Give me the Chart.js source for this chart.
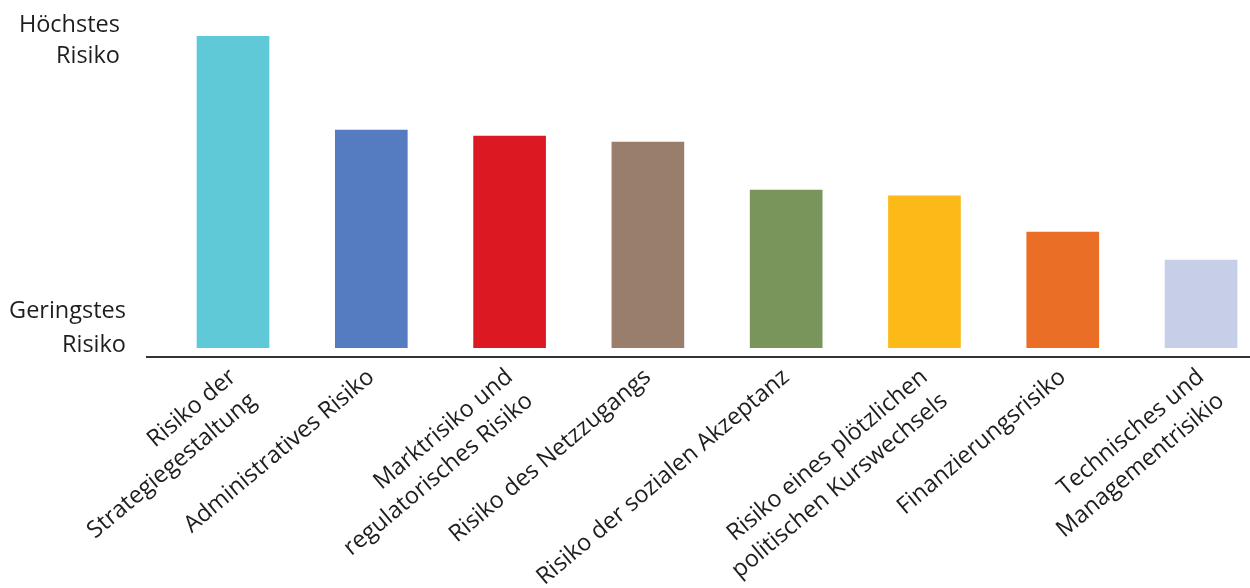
<!DOCTYPE html>
<html lang="de">
<head>
<meta charset="utf-8">
<script src="https://cdn.jsdelivr.net/npm/chart.js@4"></script>
<style>
  html, body { margin: 0; padding: 0; background: #fff; overflow: hidden; }
  #wrap { width: 1250px; height: 588px; }
</style>
</head>
<body>
<div id="wrap"><canvas id="risiko"></canvas></div>
<script>
// Kategorien (mehrzeilige Beschriftungen)
var kategorien = [
    ['Risiko der', 'Strategiegestaltung'],
    ['Administratives Risiko'],
    ['Marktrisiko und', 'regulatorisches Risiko'],
    ['Risiko des Netzzugangs'],
    ['Risiko der sozialen Akzeptanz'],
    ['Risiko eines plötzlichen', 'politischen Kurswechsels'],
    ['Finanzierungsrisiko'],
    ['Technisches und', 'Managementrisikio']
];

// relative Risikobewertung (aus dem Bild geschätzt)
var werte = [10, 6.98, 6.79, 6.6, 5.06, 4.87, 3.71, 2.81];

var farben = ['#5fc9d8', '#557bc0', '#dc1922', '#9a7e6c', '#79955c', '#fdb917', '#ea6e26', '#c7cfe8'];

// Beschriftung der Risikoachse
var achseOben = ['Höchstes', 'Risiko'];
var achseUnten = ['Geringstes', 'Risiko'];

var schrift = "'Open Sans', 'Noto Sans', sans-serif";

// Achsentexte links zeichnen
var risikoAchse = {
    id: 'risikoAchse',
    afterDraw: function (chart) {
        var c = chart.ctx;
        var y = chart.scales.y;
        var oben = y.getPixelForValue(Math.max.apply(null, werte));
        var unten = y.getPixelForValue(0);
        c.save();
        c.fillStyle = '#1e1e1e';
        c.font = '23.5px ' + schrift;
        c.textAlign = 'right';
        c.textBaseline = 'alphabetic';
        c.fillText(achseOben[0], 120, oben - 4);
        c.fillText(achseOben[1], 120, oben + 27);
        c.fillText(achseUnten[0], 126, unten - 30);
        c.fillText(achseUnten[1], 126, unten + 4);
        c.restore();
    }
};

var daten = werte.map(function (v, i) { return { x: i, y: v }; });

var ctx = document.getElementById('risiko').getContext('2d');
var grafik = new Chart(ctx, {
    type: 'bar',
    data: {
        datasets: [{
            data: daten,
            backgroundColor: farben,
            borderWidth: 0,
            barThickness: 72
        }]
    },
    options: {
        responsive: true,
        maintainAspectRatio: false,
        animation: false,
        layout: { padding: { left: 147, top: 36, right: 0, bottom: 0 } },
        plugins: {
            legend: { display: false },
            tooltip: { enabled: false }
        },
        scales: {
            x: {
                type: 'linear',
                offset: false,
                min: -0.622,
                max: 7.354,
                afterBuildTicks: function (scale) {
                    scale.ticks = kategorien.map(function (k, i) { return { value: i }; });
                },
                afterFit: function (scale) { scale.height = 231; },
                grid: { display: false, drawTicks: false },
                border: { display: true, color: '#333', width: 2 },
                ticks: {
                    autoSkip: false,
                    minRotation: 40,
                    maxRotation: 40,
                    padding: 5,
                    color: '#1e1e1e',
                    font: { family: schrift, size: 23.5, lineHeight: 1.33 },
                    callback: function (value) { return kategorien[value]; }
                }
            },
            y: {
                display: false,
                min: -0.3,
                max: 10
            }
        }
    },
    plugins: [risikoAchse]
});
</script>
</body>
</html>
